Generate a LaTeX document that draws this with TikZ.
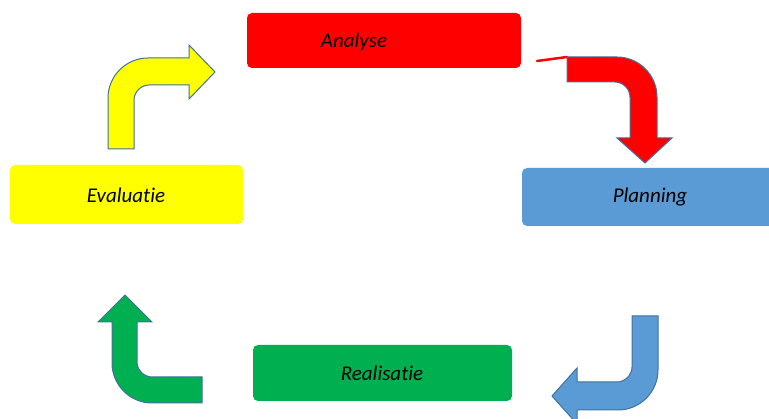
\documentclass[tikz,border=0pt]{standalone}
\usepackage{fontspec}
\setmainfont[RawFeature={-liga;-dlig;-clig}]{Carlito}
\definecolor{cred}{HTML}{FF0000}
\definecolor{cblue}{HTML}{5B9BD5}
\definecolor{cyellow}{HTML}{FFFF00}
\definecolor{cgreen}{HTML}{00B050}
\definecolor{cedge}{HTML}{41719C}
\begin{document}
\begin{tikzpicture}[x=1pt,y=-1pt,
  box/.style={rounded corners=5pt},
  lbl/.style={font=\fontsize{21}{24}\selectfont\itshape, text=black, inner sep=0pt},
  bent/.style={draw=cedge, line width=1pt, line join=miter}]
\useasboundingbox (0,0) rectangle (769,419);
% boxes
\fill[cred,box] (247,13) rectangle (521,68);
\fill[cblue,box] (522,168) rectangle (775,226);
\fill[cyellow,box] (10,165) rectangle (243,224);
\fill[cgreen,box] (253,345) rectangle (512,401);
\node[lbl] (analyse) at (354,42) {Analyse};
\node[lbl] (planning) at (650,197) {Planning};
\node[lbl] (evaluatie) at (126,195) {Evaluatie};
\node[lbl] (realisatie) at (382,373) {Realisatie};
% red arrow
\draw[cred, line width=2.5pt, line cap=round] (537,61) -- (567,57);
\draw[bent, fill=cred] (567,57) -- (617,57) .. controls (639,57) and (657,75) .. (657,97)
  -- (657,138) -- (672,138) -- (645,163) -- (617,138) -- (630,138) -- (630,97)
  .. controls (630,89) and (623,82) .. (615,82) -- (567,82) -- cycle;
% yellow arrow
\draw[bent, fill=cyellow] (108,149) -- (108,98) .. controls (108,76) and (126,58) .. (148,58)
  -- (189,58) -- (189,45) -- (215,72) -- (189,99) -- (189,85) -- (149,85)
  .. controls (141,85) and (134,92) .. (134,100) -- (134,149) -- cycle;
% blue arrow
\draw[bent, fill=cblue] (632,316) -- (658,316) -- (658,370) .. controls (658,392) and (640,410) .. (618,410)
  -- (577,410) -- (577,424) -- (552,396) -- (577,368) -- (577,382) -- (617,382)
  .. controls (625,382) and (632,375) .. (632,367) -- cycle;
% green arrow
\draw[bent, fill=cgreen] (202,377) -- (152,377) .. controls (144,377) and (137,370) .. (137,362)
  -- (137,322) -- (152,322) -- (125,295) -- (98,322) -- (112,322) -- (112,363)
  .. controls (112,385) and (130,403) .. (152,403) -- (202,403) -- cycle;
\end{tikzpicture}
\end{document}
